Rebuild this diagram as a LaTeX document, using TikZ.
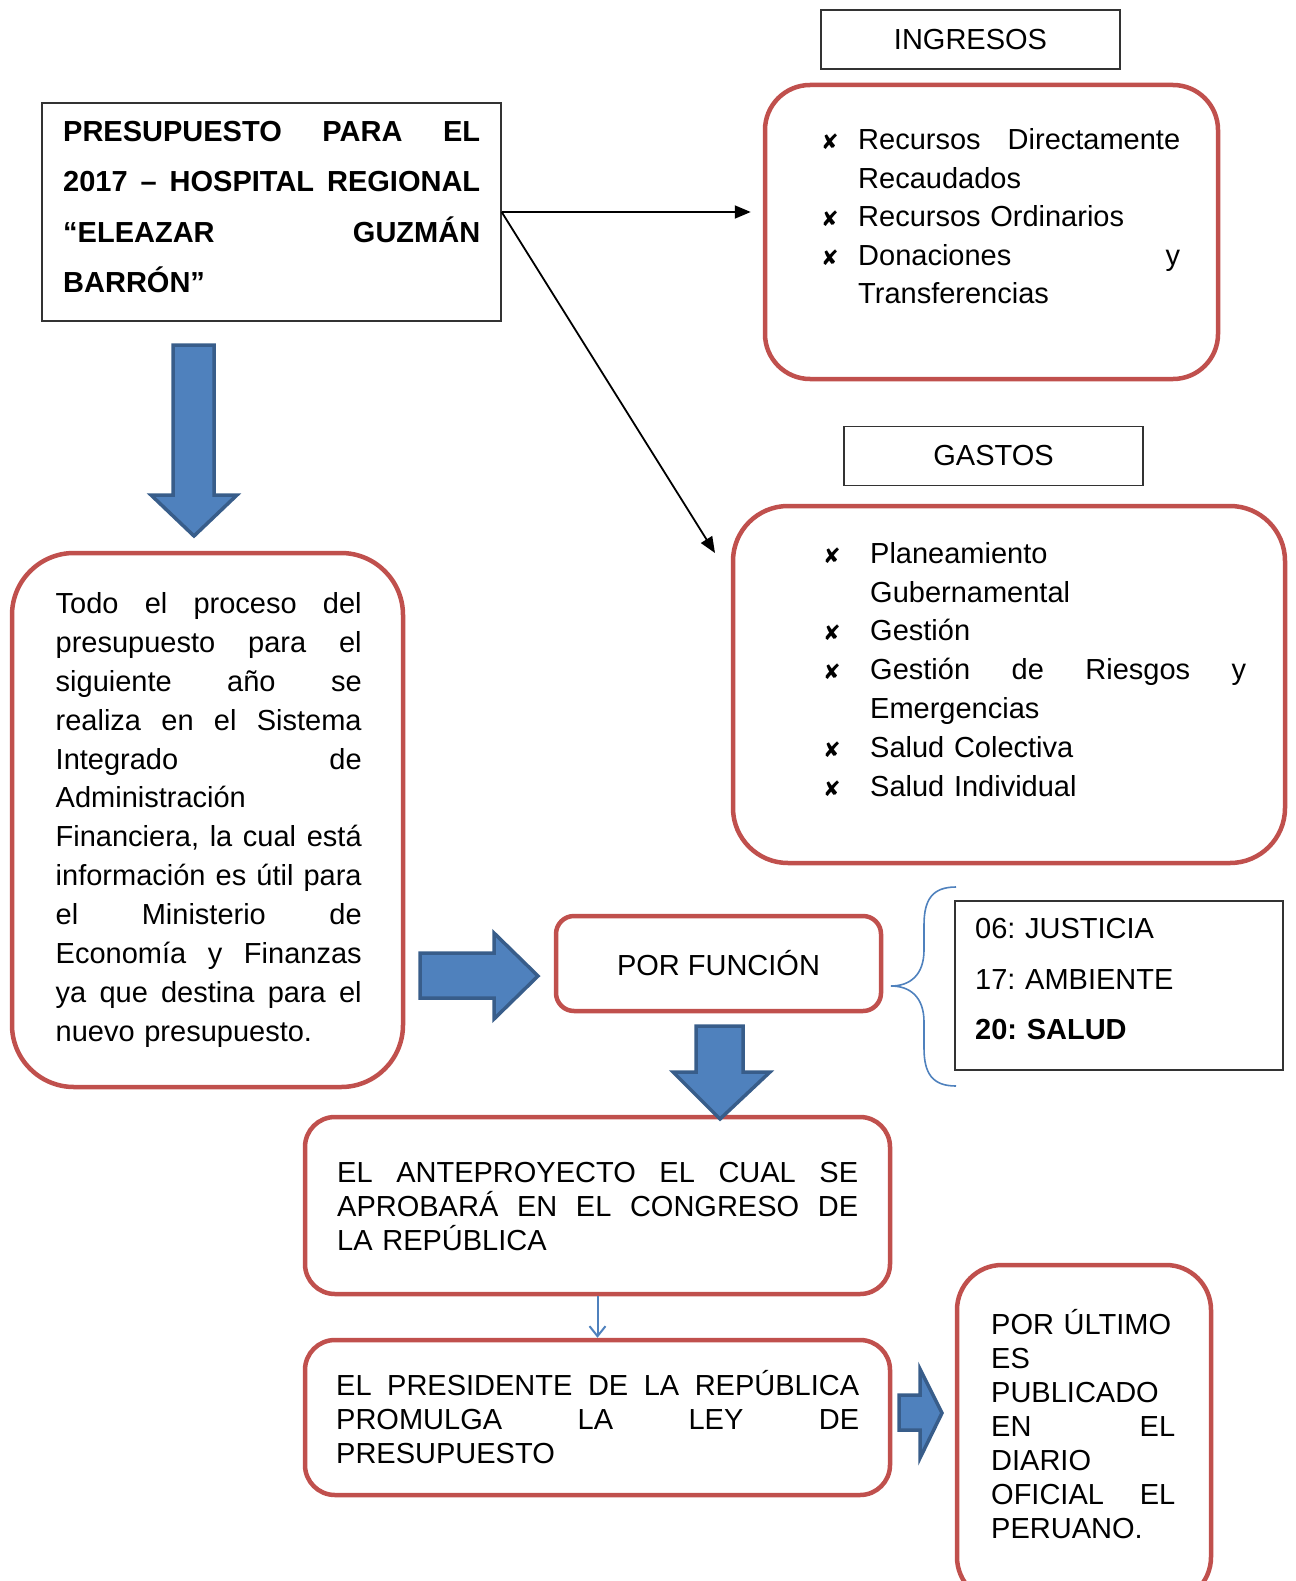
\documentclass[tikz,border=0pt]{standalone}
\usepackage{fontspec}
\setmainfont{Liberation Sans}
\newfontfamily\symfont{DejaVu Sans}
\usetikzlibrary{arrows.meta, positioning}
\definecolor{boxred}{HTML}{C0504D}
\definecolor{arrblue}{HTML}{4F81BD}
\definecolor{arredge}{HTML}{385D8A}
\frenchspacing
% one justified line / a bullet hung left of the text
\newcommand{\jl}[1]{\strut\hbox to \hsize{#1}\\}
\newcommand{\bul}[1]{\leavevmode\llap{\makebox[#1][l]{\symfont\fontsize{21}{21}\selectfont ✘}}}

\begin{document}
\begin{tikzpicture}[x=1pt, y=-1pt,
  rbox/.style={draw=boxred, line width=4.5pt, rounded corners=#1, inner sep=0pt},
  rbox/.default=30pt,
  kbox/.style={draw=black!80, line width=1.3pt, inner sep=0pt},
  txt/.style={anchor=north west, inner sep=0pt, align=left, font=\fontsize{29}{#1}\selectfont,
    execute at begin node={\lineskiplimit=-60pt\relax}},
  txt/.default=34,
  blockarrow/.style={fill=arrblue, draw=arredge, line width=3.5pt, line join=miter},
  link/.style={-{Triangle[length=16pt, width=13pt]}, line width=1.8pt}]
  \useasboundingbox (0,0) rectangle (1295,1581);
  % boxes
  \node[kbox, minimum width=459pt, minimum height=218pt] (title) at (271.5,212) {};
  \node[kbox, minimum width=299pt, minimum height=59pt, font=\fontsize{29}{34}\selectfont]
       (ingtag) at (970.5,39.5) {INGRESOS};
  \node[rbox=45pt, minimum width=453pt, minimum height=294pt] (ingr) at (991.5,232) {};
  \node[kbox, minimum width=299pt, minimum height=59pt, font=\fontsize{29}{34}\selectfont]
       (gastag) at (993.5,456) {GASTOS};
  \node[rbox=55pt, minimum width=552pt, minimum height=357pt] (gast) at (1009,684.5) {};
  \node[rbox=62pt, minimum width=391pt, minimum height=534pt] (proc) at (207.5,820) {};
  \node[rbox=18pt, minimum width=325pt, minimum height=95pt, font=\fontsize{29}{34}\selectfont]
       (func) at (718.5,963.5) {POR FUNCIÓN};
  \node[kbox, minimum width=328pt, minimum height=169pt] (codes) at (1119,985.5) {};
  \node[rbox, minimum width=585pt, minimum height=177pt] (ante) at (597.5,1205.5) {};
  \node[rbox, minimum width=585pt, minimum height=155pt] (pres) at (597.5,1417.5) {};
  \node[rbox=45pt, minimum width=254pt, minimum height=337pt] (publ) at (1084,1433.5) {};
  % texts
  \node[txt=50.4, text width=417pt] (titletxt) at (63,106) {\bfseries
    \jl{PRESUPUESTO \hfil PARA \hfil EL}\jl{2017 \hfil – \hfil HOSPITAL \hfil REGIONAL}%
    \jl{“ELEAZAR \hfil GUZMÁN}\strut BARRÓN”};
  \node[txt=38.5, text width=322pt] (ingrtxt) at (858,122.5) {%
    \bul{37pt}\jl{Recursos \hfil Directamente}\strut Recaudados\\
    \bul{37pt}\strut Recursos Ordinarios\\
    \bul{37pt}\jl{Donaciones \hfil y}\strut Transferencias};
  \node[txt=38.8, text width=376pt] (gasttxt) at (870,536) {%
    \bul{47pt}\strut Planeamiento\\ \strut Gubernamental\\
    \bul{47pt}\strut Gestión\\
    \bul{47pt}\jl{Gestión \hfil de \hfil Riesgos \hfil y}\strut Emergencias\\
    \bul{47pt}\strut Salud Colectiva\\
    \bul{47pt}\strut Salud Individual};
  \node[txt=38.9, text width=306pt] (proctxt) at (55.5,586) {%
    \jl{Todo \hfil el \hfil proceso \hfil del}\jl{presupuesto \hfil para \hfil el}%
    \jl{siguiente \hfil año \hfil se}\jl{realiza \hfil en \hfil el \hfil Sistema}%
    \jl{Integrado \hfil de}\strut Administración\\
    \jl{Financiera, \hfil la \hfil cual \hfil está}\jl{información \hfil es \hfil útil \hfil para}%
    \jl{el \hfil Ministerio \hfil de}\jl{Economía \hfil y \hfil Finanzas}%
    \jl{ya \hfil que \hfil destina \hfil para \hfil el}\strut nuevo presupuesto.};
  \node[txt=50.5, text width=300pt] (codestxt) at (975,903) {%
    \strut 06: JUSTICIA\\ \strut 17: AMBIENTE\\ \strut\textbf{20: SALUD}};
  \node[txt, text width=521pt] (antetxt) at (337,1158.5) {%
    \jl{EL \hfil ANTEPROYECTO \hfil EL \hfil CUAL \hfil SE}%
    \jl{APROBARÁ \hfil EN \hfil EL \hfil CONGRESO \hfil DE}\strut LA REPÚBLICA};
  \node[txt, text width=523pt] (prestxt) at (336,1370.5) {%
    \jl{EL \hfil PRESIDENTE \hfil DE \hfil LA \hfil REPÚBLICA}%
    \jl{PROMULGA \hfil LA \hfil LEY \hfil DE}\strut PRESUPUESTO};
  \node[txt, text width=184pt] (publtxt) at (991,1309.5) {%
    \strut POR ÚLTIMO\\ \strut ES\\ \strut PUBLICADO\\ \jl{EN \hfil EL}\strut DIARIO\\
    \jl{OFICIAL \hfil EL}\strut PERUANO.};
  % connectors
  \coordinate (gtip) at (715,553);
  \draw[link] (title.east) -- ([xshift=-12pt]title.east -| ingr.west);
  \draw[link] (title.east) -- (gtip);
  \draw[-{Straight Barb[length=10pt, width=16pt]}, arrblue, line width=2pt] (ante.south) -- (pres.north);
  % brace
  \draw[arrblue, line width=1.6pt] (956,887) .. controls (932,887) and (924,900) .. (924,925)
    -- (924,950) .. controls (924,975) and (910,986) .. (891,986)
    .. controls (910,986) and (924,997) .. (924,1022) -- (924,1048)
    .. controls (924,1073) and (932,1086) .. (956,1086);
  % block arrows
  \draw[blockarrow] (173,345) -- (214,345) -- (214,495) -- (237,495) -- (194,536)
    -- (151,495) -- (173,495) -- cycle;
  \draw[blockarrow] (420,953) -- (494,953) -- (494,933) -- (538,976) -- (494,1019)
    -- (494,998) -- (420,998) -- cycle;
  \draw[blockarrow] (696,1026) -- (743,1026) -- (743,1072) -- (770,1072) -- (720,1119)
    -- (673,1072) -- (696,1072) -- cycle;
  \draw[blockarrow] (899,1395) -- (920,1395) -- (920,1369) -- (942,1413) -- (920,1458)
    -- (920,1430) -- (899,1430) -- cycle;
\end{tikzpicture}
\end{document}
